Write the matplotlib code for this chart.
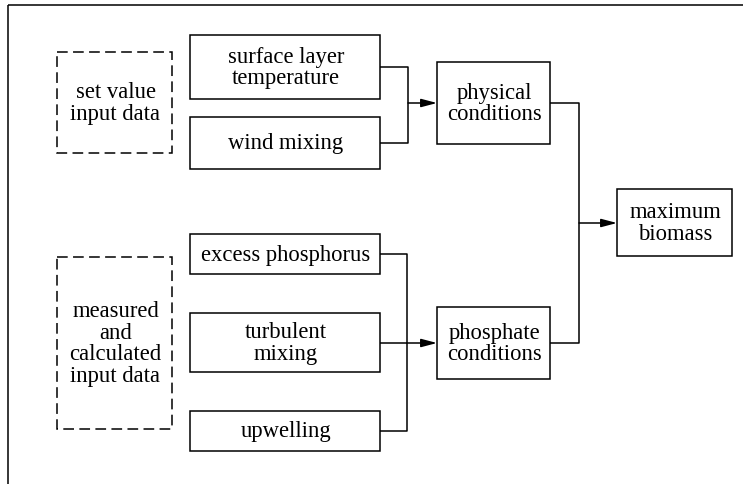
import matplotlib.pyplot as plt
from matplotlib.patches import Rectangle

plt.rcParams['font.family'] = ['Liberation Serif', 'DejaVu Serif']

# box labels
input_labels = ['set value\ninput data', 'measured\nand\ncalculated\ninput data']
upper_labels = ['surface layer\ntemperature', 'wind mixing']
lower_labels = ['excess phosphorus', 'turbulent\nmixing', 'upwelling']
mid_labels = ['physical\nconditions', 'phosphate\nconditions']
final_label = 'maximum\nbiomass'

W, H = 743, 484
fig = plt.figure(figsize=(W / 100, H / 100), dpi=100)
ax = fig.add_axes([0, 0, 1, 1])
ax.set_xlim(0, W)
ax.set_ylim(H, 0)
ax.axis('off')

LW = 1.1
FS = 16.3


def box(x0, y0, x1, y1, text, dashed=False):
    ls = (0, (7, 3.5)) if dashed else '-'
    ax.add_patch(Rectangle((x0, y0), x1 - x0, y1 - y0, fill=False,
                           lw=LW, ls=ls, ec='black'))
    ax.text((x0 + x1) / 2 + 1, (y0 + y1) / 2 + 1, text, ha='center', va='center',
            fontsize=FS, linespacing=1.06)


def line(xs, ys):
    ax.plot(xs, ys, color='black', lw=LW, solid_capstyle='butt')


def arrow(x0, x1, y):
    ax.annotate('', xy=(x1, y), xytext=(x0, y),
                arrowprops=dict(arrowstyle='-|>,head_length=0.95,head_width=0.25',
                                mutation_scale=10, lw=LW, color='black',
                                shrinkA=0, shrinkB=0))


# frame (top and left only)
line([8, 743], [5, 5])
line([8, 8], [5, 484])

# input boxes
box(57, 52, 172, 153, input_labels[0], dashed=True)
box(57, 257, 172, 429, input_labels[1], dashed=True)

upper_y = [(35, 99), (117, 169)]
for (y0, y1), lab in zip(upper_y, upper_labels):
    box(190, y0, 380, y1, lab)

lower_y = [(234, 274), (313, 372), (411, 451)]
for (y0, y1), lab in zip(lower_y, lower_labels):
    box(190, y0, 380, y1, lab)

box(437, 62, 550, 144, mid_labels[0])
box(437, 307, 550, 379, mid_labels[1])
box(617, 189, 732, 256, final_label)

# upper connector
line([380, 408, 408, 380], [67, 67, 143, 143])
arrow(408, 437, 103)

# lower connector
line([380, 407, 407, 380], [254, 254, 431, 431])
line([380, 407], [343, 343])
arrow(407, 437, 343)

# right connector
line([550, 579, 579, 550], [103, 103, 343, 343])
arrow(579, 617, 223)

fig.savefig('out.png', dpi=100)
